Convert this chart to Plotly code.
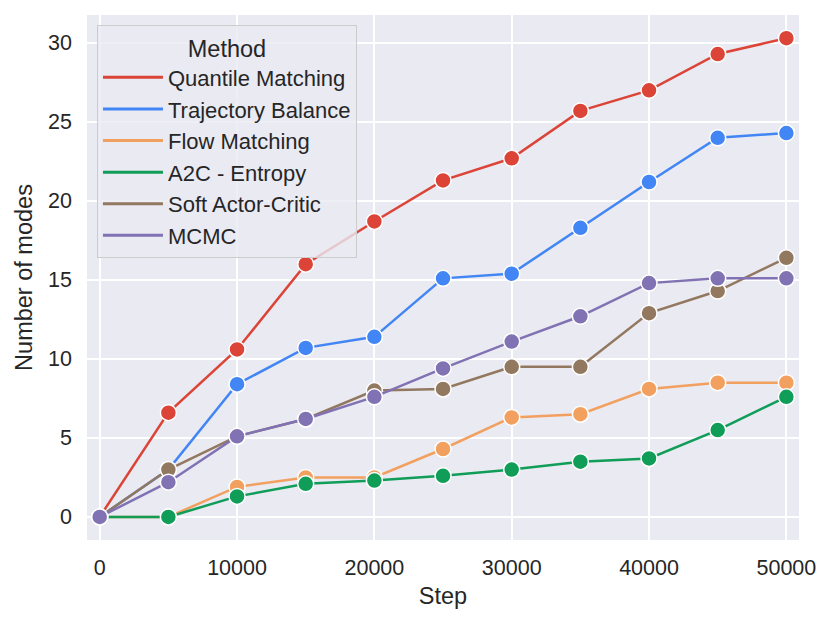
import plotly.graph_objects as go

steps = [0, 5000, 10000, 15000, 20000, 25000, 30000, 35000, 40000, 45000, 50000]

quantile_matching = [0, 6.6, 10.6, 16.0, 18.7, 21.3, 22.7, 25.7, 27.0, 29.3, 30.3]
trajectory_balance = [0, 3.0, 8.4, 10.7, 11.4, 15.1, 15.4, 18.3, 21.2, 24.0, 24.3]
flow_matching = [0, 0, 1.9, 2.5, 2.5, 4.3, 6.3, 6.5, 8.1, 8.5, 8.5]
a2c_entropy = [0, 0, 1.3, 2.1, 2.3, 2.6, 3.0, 3.5, 3.7, 5.5, 7.6]
soft_actor_critic = [0, 3.0, 5.1, 6.2, 8.0, 8.1, 9.5, 9.5, 12.9, 14.3, 16.4]
mcmc = [0, 2.2, 5.1, 6.2, 7.6, 9.4, 11.1, 12.7, 14.8, 15.1, 15.1]

methods = ["Quantile Matching", "Trajectory Balance", "Flow Matching",
           "A2C - Entropy", "Soft Actor-Critic", "MCMC"]
series = [quantile_matching, trajectory_balance, flow_matching,
          a2c_entropy, soft_actor_critic, mcmc]
colors = ["#DB4437", "#4285F4", "#F2A05F", "#0F9D58", "#937860", "#8172B3"]

y_ticks = [0, 5, 10, 15, 20, 25, 30]
x_ticks = [0, 10000, 20000, 30000, 40000, 50000]

text_color = "#262626"
font = "Liberation Sans, Arial, sans-serif"

fig = go.Figure()

# data traces (markers + lines), no legend entry
for name, vals, col in zip(methods, series, colors):
    fig.add_trace(go.Scatter(
        x=steps, y=vals, mode="lines+markers", name=name,
        line=dict(color=col, width=2.5),
        marker=dict(size=16, color=col, line=dict(color="white", width=1.5)),
        showlegend=False,
    ))

# legend proxies: line only, like seaborn
for name, col in zip(methods, colors):
    fig.add_trace(go.Scatter(
        x=[None], y=[None], mode="lines", name=name,
        line=dict(color=col, width=3), showlegend=True,
    ))

# page body has an 8px margin, so the figure is a bit smaller than the window
fig.update_layout(
    width=815, height=607,
    margin=dict(l=79, r=24, t=7, b=75),
    paper_bgcolor="white",
    plot_bgcolor="#EAEAF2",
    font=dict(family=font, size=22, color=text_color),
    legend=dict(
        title=dict(text="Method", side="top center", font=dict(size=23.5, color=text_color)),
        font=dict(size=22, color=text_color),
        x=0.014, y=0.981, xanchor="left", yanchor="top",
        bgcolor="rgba(234,234,242,0.8)",
        bordercolor="#CCCCCC", borderwidth=1,
        itemwidth=60,
        tracegroupgap=0,
    ),
)

fig.update_xaxes(
    range=[-925, 50920], tickvals=x_ticks, ticktext=[str(v) for v in x_ticks],
    showgrid=True, gridcolor="white", gridwidth=1.5, zeroline=False,
    showline=False, ticks="", ticklabelstandoff=12, automargin=False,
    title=dict(text="Step", font=dict(size=23.5, color=text_color), standoff=9),
    tickfont=dict(size=21.5, color=text_color),
)
fig.update_yaxes(
    range=[-1.46, 31.77], tickvals=y_ticks,
    showgrid=True, gridcolor="white", gridwidth=1.5, zeroline=False,
    showline=False, ticks="", ticklabelstandoff=14, automargin=False,
    title=dict(text="Number of modes", font=dict(size=23.5, color=text_color), standoff=8),
    tickfont=dict(size=21.5, color=text_color),
)

fig.write_html("out.html")
